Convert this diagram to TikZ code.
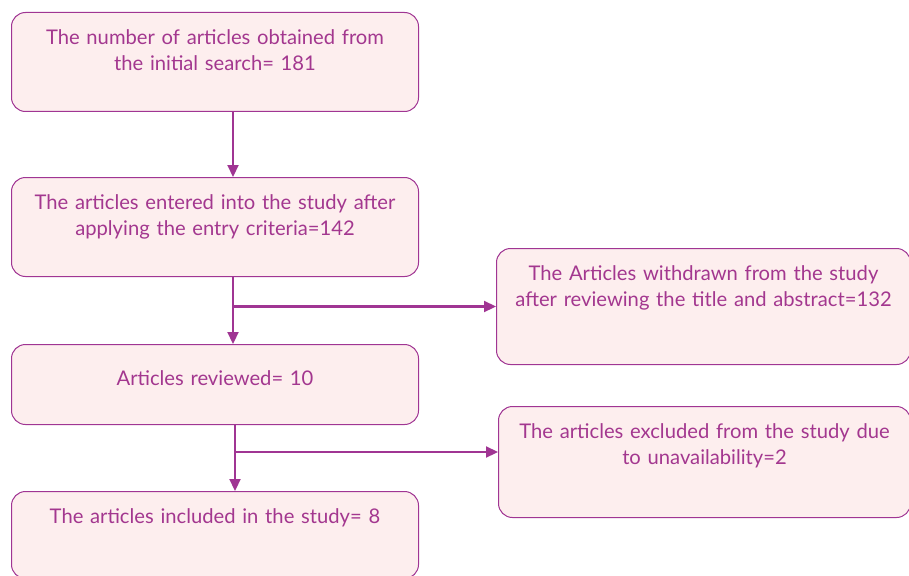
\documentclass[tikz,border=0pt]{standalone}
\usepackage{fontspec}
\setmainfont{Lato}
\usetikzlibrary{positioning,arrows.meta}
\definecolor{pline}{HTML}{A03593}
\definecolor{pfill}{HTML}{FDEEEE}
\definecolor{ptext}{HTML}{A3378F}
\begin{document}
\begin{tikzpicture}[x=1pt,y=-1pt,
    box/.style={draw=pline,fill=pfill,rounded corners=14pt,line width=1pt,inner sep=0pt,
        align=center,text=ptext,font=\fontsize{20.2}{26}\selectfont,text height=32pt,anchor=north west},
    arr/.style={draw=pline,line width=2.2pt,-{Triangle[length=12pt,width=11pt]}}]
            \useasboundingbox(0,0)rectangle(909,575);
            \node[box,text width=407pt,text depth=67pt](1)at(11,12){The number of articles obtained from\\the initial search= 181};
            \node[box,text width=407pt,text depth=67pt](2)at(11,177){The articles entered into the study after\\applying the entry criteria=142};
            \node[box,text width=407pt,text height=41pt,text depth=39pt](3)at(11,344){Articles reviewed= 10};
            \node[box,text width=407pt,text depth=55pt](4)at(11,491){The articles included in the study= 8};
            \node[box,text width=414pt,text depth=84pt](5)at(496,248){The Articles withdrawn from the study\\after reviewing the title and abstract=132};
            \node[box,text width=412pt,text depth=79pt](6)at(498,406){The articles excluded from the study due\\to unavailability=2};
            \coordinate(a)at([xshift=18pt]2.south);
            \coordinate(b)at([xshift=20pt]3.south);
            \coordinate(c)at([yshift=10pt]6.west);
            \draw[arr]([xshift=18pt]1.south)--([xshift=18pt]2.north);
            \draw[arr](a)--([xshift=18pt]3.north);
            \draw[arr](a|-5.west)--(5.west);
            \draw[arr](b)--([xshift=20pt]4.north);
            \draw[arr](b|-c)--(c);
        \end{tikzpicture}
\end{document}
